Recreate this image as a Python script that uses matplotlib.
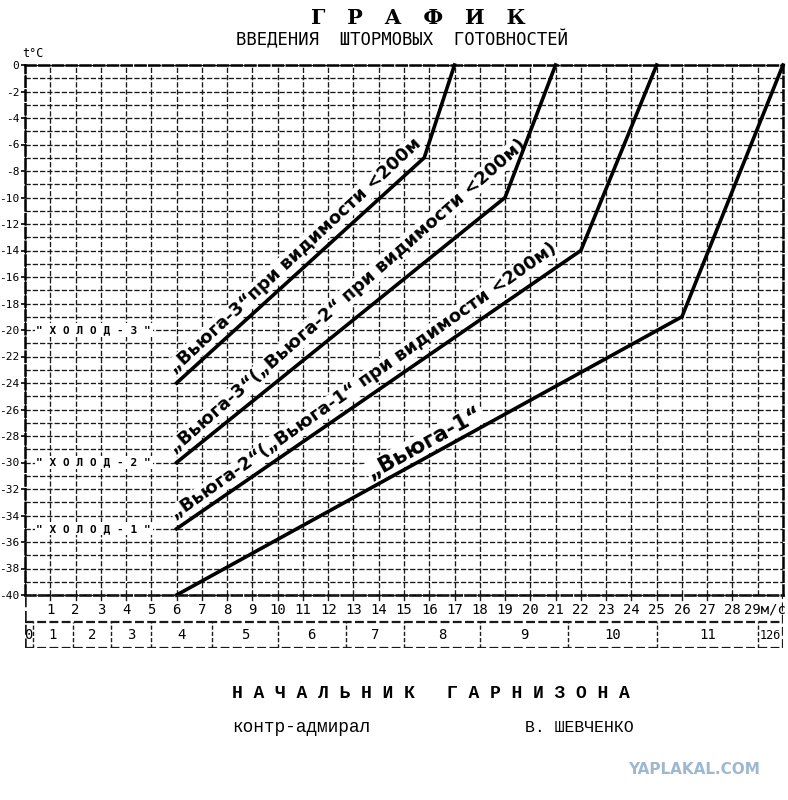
import numpy as np
import matplotlib.pyplot as plt

# wind speed (m/s) vs temperature (C) break lines
v1_x = [6, 26, 30]
v1_t = [-40, -19, 0]
v2_x = [6, 22, 25]
v2_t = [-35, -14, 0]
v3_x = [6, 19, 21]
v3_t = [-30, -10, 0]
v4_x = [6, 15.8, 17]
v4_t = [-24, -7, 0]

line_labels = [
    "„Вьюга-1“",
    "„Вьюга-2“(„Вьюга-1“ при видимости <200м)",
    "„Вьюга-3“(„Вьюга-2“ при видимости <200м)",
    "„Вьюга-3“при видимости <200м",
]

cold_t = [-20, -30, -35]
cold_labels = ['" Х О Л О Д - 3 "', '" Х О Л О Д - 2 "', '" Х О Л О Д - 1 "']

t_ticks = list(range(0, -41, -2))
wind_ticks = list(range(1, 29))

beaufort_edges = [0, 0.3, 1.9, 3.4, 5, 7.4, 10, 12.7, 15, 18, 21.5, 25, 29, 30]
beaufort_labels = ['0', '1', '2', '3', '4', '5', '6', '7', '8', '9', '10', '11', '12б']

W, H = 788, 800
fig = plt.figure(figsize=(W / 100, H / 100), dpi=100)


def fx(px):
    return px / W


def fy(py):
    return 1 - py / H


mono = 'DejaVu Sans Mono'
grid_kw = dict(color='#1a1a1a', lw=0.95, ls=(0, (4, 1.5)))

ax = fig.add_axes([fx(25), fy(595), fx(783) - fx(25), fy(65) - fy(595)])
ax.set_xlim(0, 30)
ax.set_ylim(-40, 0)
for x in range(0, 31):
    ax.axvline(x, **grid_kw)
for t in range(0, -41, -1):
    ax.axhline(t, **grid_kw)
for s in ax.spines.values():
    s.set_linestyle((0, (4, 1.5)))
    s.set_linewidth(1.8)
ax.set_xticks([])
ax.set_yticks(t_ticks)
ax.set_yticklabels([str(t) for t in t_ticks], family=mono, fontsize=8)
ax.tick_params(axis='y', length=3, width=1.2, pad=1)

series = [(v1_x, v1_t), (v2_x, v2_t), (v3_x, v3_t), (v4_x, v4_t)]
for xs, ts in series:
    ax.plot(xs, ts, color='black', lw=2.6, solid_joinstyle='miter', clip_on=False, zorder=5)

# labels along the first segment of each line (start x, extra tilt, font size)
label_pos = [(13.85, 0, 15.5), (6.15, 0.6, 13), (6.15, 2.3, 13), (6.15, 0.6, 13)]
for (xs, ts), text, (x0, tilt, size) in zip(series, line_labels, label_pos):
    slope = (ts[1] - ts[0]) / (xs[1] - xs[0])
    y0 = ts[0] + slope * (x0 - xs[0])
    p1 = ax.transData.transform((xs[0], ts[0]))
    p2 = ax.transData.transform((xs[1], ts[1]))
    ang = np.degrees(np.arctan2(p2[1] - p1[1], p2[0] - p1[0]))
    off = 2.5
    ax.annotate(text, (x0, y0), xytext=(-off * np.sin(np.radians(ang)), off * np.cos(np.radians(ang))),
                textcoords='offset points', rotation=ang + tilt, rotation_mode='anchor',
                ha='left', va='bottom', fontsize=size, fontweight='bold',
                family='DejaVu Sans Condensed', zorder=4,
                bbox=dict(boxstyle='square,pad=0.05', fc='white', ec='none'))

for t, lab in zip(cold_t, cold_labels):
    ax.text(0.45, t, lab, family=mono, fontsize=8, fontweight='bold', ha='left', va='center',
            bbox=dict(boxstyle='square,pad=0.15', fc='white', ec='none'))

ax.text(-0.12, 0.9, 't°C', family=mono, fontsize=8.5, ha='left', va='center', clip_on=False)

# scale strip under the chart: wind speed row and Beaufort row
ax2 = fig.add_axes([fx(25), fy(648), fx(783) - fx(25), fy(595) - fy(648)])
ax2.set_xlim(0, 30)
ax2.set_ylim(0, 2)
ax2.axis('off')
for y in [0, 1, 2]:
    ax2.axhline(y, color='#1a1a1a', lw=1.6, ls=(0, (4, 1.5)))
ax2.axvline(0, color='#1a1a1a', lw=1.8, ls=(0, (4, 1.5)))
ax2.axvline(30, color='#1a1a1a', lw=1.6, ls=(0, (4, 1.5)))
for x in wind_ticks:
    ax2.plot([x, x], [1.82, 2], color='#1a1a1a', lw=1)
    ax2.text(x, 1.45, str(x), family=mono, fontsize=10, ha='center', va='center')
ax2.text(28.45, 1.45, '29м/с', family=mono, fontsize=10, ha='left', va='center')
for x in beaufort_edges[1:-1]:
    ax2.plot([x, x], [0, 1], color='#1a1a1a', lw=1, ls=(0, (3, 1.5)))
for i, lab in enumerate(beaufort_labels):
    mid = (beaufort_edges[i] + beaufort_edges[i + 1]) / 2
    ax2.text(mid, 0.48, lab, family=mono, fontsize=10 if len(lab) < 3 else 8.5,
             ha='center', va='center')

# heading and signature block
fig.text(fx(418), fy(18), 'Г   Р   А   Ф   И   К', family='DejaVu Serif', fontweight='bold',
         fontsize=15, ha='center', va='center')
fig.text(fx(402), fy(40), 'ВВЕДЕНИЯ  ШТОРМОВЫХ  ГОТОВНОСТЕЙ', family=mono,
         fontsize=12.4, ha='center', va='center')
fig.text(fx(232), fy(693), 'Н А Ч А Л Ь Н И К   Г А Р Н И З О Н А', family='Liberation Mono',
         fontweight='bold', fontsize=13, ha='left', va='center')
fig.text(fx(232), fy(728), 'контр-адмирал', family='Liberation Mono', fontsize=12.8,
         ha='left', va='center')
fig.text(fx(525), fy(728), 'В. ШЕВЧЕНКО', family='Liberation Mono', fontsize=11.9,
         ha='left', va='center')
fig.text(fx(694), fy(770), 'YAPLAKAL.COM', family='DejaVu Sans', fontweight='bold',
         fontsize=11, color='#9db8d0', ha='center', va='center')

fig.savefig('out.png', dpi=100, facecolor='white')
